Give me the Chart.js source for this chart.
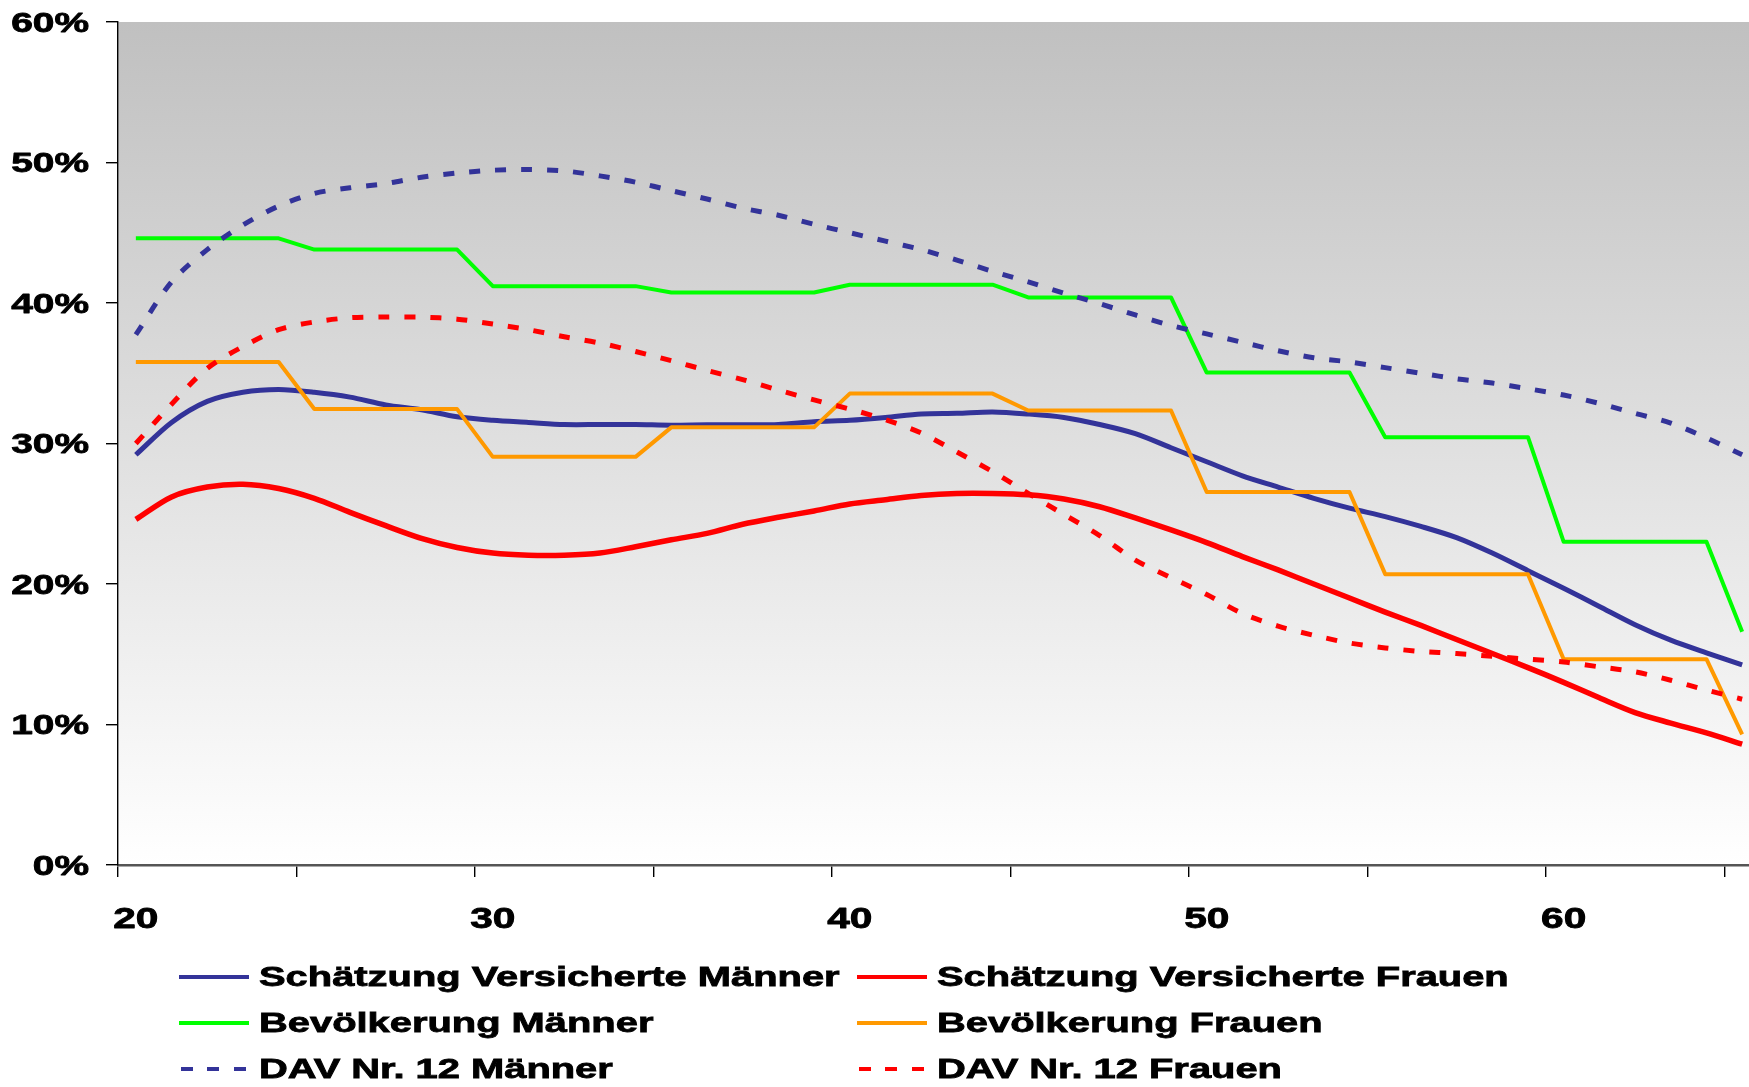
<!DOCTYPE html>
<html lang="de">
<head>
<meta charset="utf-8">
<title>Schätzung Versicherte / Bevölkerung / DAV Nr. 12</title>
<script src="https://cdn.jsdelivr.net/npm/chart.js@4.4.1/dist/chart.umd.min.js"></script>
<style>
  html, body { margin: 0; padding: 0; background: #fff; overflow: hidden; }
  #wrap { position: relative; width: 1749px; height: 1087px; overflow: hidden; }
  #chart { position: absolute; left: 0; top: 0; }
  #legend { position: absolute; left: 0; top: 0; width: 1749px; height: 1087px;
            font: bold 27.5px "Liberation Sans", Arial, sans-serif; color: #000;
            -webkit-text-stroke: 0.8px #000; }
  .swatch { position: absolute; height: 4px; }
  .label { position: absolute; white-space: nowrap; line-height: 30px; transform-origin: 0 0; }
</style>
</head>
<body>
<div id="wrap">
  <canvas id="chart" width="1760" height="945"></canvas>
  <div id="legend"></div>
</div>
<script>
/* ---- data (ages 20..65, values in %) ---- */
const AGES = [20, 21, 22, 23, 24, 25, 26, 27, 28, 29, 30, 31, 32, 33, 34, 35, 36, 37, 38, 39, 40, 41, 42,
              43, 44, 45, 46, 47, 48, 49, 50, 51, 52, 53, 54, 55, 56, 57, 58, 59, 60, 61, 62, 63, 64, 65];

const X_LABELS = ['20', '30', '40', '50', '60'];
const Y_TICKS  = [0, 10, 20, 30, 40, 50, 60];

const SCHAETZUNG_MAENNER = [29.2, 31.5, 33.0, 33.65, 33.85, 33.65, 33.3, 32.75, 32.4, 31.9, 31.65, 31.5,
                            31.35, 31.35, 31.35, 31.3, 31.33, 31.33, 31.35, 31.55, 31.65, 31.85, 32.1,
                            32.15, 32.25, 32.1, 31.85, 31.35, 30.7, 29.7, 28.7, 27.7, 26.9, 26.1, 25.4,
                            24.8, 24.1, 23.3, 22.2, 20.95, 19.7, 18.4, 17.1, 16.0, 15.1, 14.25];

const SCHAETZUNG_FRAUEN  = [24.6, 26.2, 26.9, 27.1, 26.8, 26.1, 25.1, 24.15, 23.25, 22.6, 22.2, 22.05,
                            22.05, 22.2, 22.65, 23.15, 23.6, 24.25, 24.75, 25.2, 25.7, 26.0, 26.3,
                            26.45, 26.45, 26.35, 26.05, 25.5, 24.7, 23.85, 22.95, 21.95, 21.0, 20.0,
                            19.0, 18.0, 17.05, 16.05, 15.05, 14.05, 13.0, 11.9, 10.85, 10.1, 9.4, 8.6];

const BEVOELKERUNG_MAENNER = [44.6, 44.6, 44.6, 44.6, 44.6, 43.8, 43.8, 43.8, 43.8, 43.8, 41.2, 41.2,
                              41.2, 41.2, 41.2, 40.75, 40.75, 40.75, 40.75, 40.75, 41.3, 41.3, 41.3,
                              41.3, 41.3, 40.4, 40.4, 40.4, 40.4, 40.4, 35.05, 35.05, 35.05, 35.05,
                              35.05, 30.45, 30.45, 30.45, 30.45, 30.45, 23.0, 23.0, 23.0, 23.0, 23.0, 16.6];

const BEVOELKERUNG_FRAUEN  = [35.8, 35.8, 35.8, 35.8, 35.8, 32.45, 32.45, 32.45, 32.45, 32.45, 29.05,
                              29.05, 29.05, 29.05, 29.05, 31.15, 31.15, 31.15, 31.15, 31.15, 33.55,
                              33.55, 33.55, 33.55, 33.55, 32.35, 32.35, 32.35, 32.35, 32.35, 26.55,
                              26.55, 26.55, 26.55, 26.55, 20.7, 20.7, 20.7, 20.7, 20.7, 14.65, 14.65,
                              14.65, 14.65, 14.65, 9.3];

const DAV_MAENNER = [37.75, 41.5, 43.8, 45.55, 46.9, 47.8, 48.2, 48.5, 48.95, 49.25, 49.45, 49.5, 49.4,
                     49.05, 48.6, 48.0, 47.4, 46.75, 46.25, 45.6, 45.0, 44.4, 43.8, 43.05, 42.25, 41.5,
                     40.7, 39.95, 39.15, 38.4, 37.8, 37.2, 36.6, 36.1, 35.8, 35.4, 35.0, 34.6, 34.3,
                     33.9, 33.45, 32.85, 32.15, 31.45, 30.4, 29.2];

const DAV_FRAUEN  = [30.0, 32.8, 35.35, 36.9, 38.1, 38.65, 38.95, 39.0, 39.0, 38.85, 38.5, 38.1, 37.6,
                     37.15, 36.55, 35.9, 35.2, 34.55, 33.8, 33.1, 32.45, 31.7, 30.75, 29.4, 28.0, 26.45,
                     24.95, 23.45, 21.7, 20.45, 19.25, 17.9, 17.0, 16.35, 15.8, 15.45, 15.2, 15.05,
                     14.85, 14.65, 14.45, 14.1, 13.75, 13.15, 12.45, 11.8];

const SERIES_LABELS = ['Schätzung Versicherte Männer', 'Schätzung Versicherte Frauen',
                       'Bevölkerung Männer', 'Bevölkerung Frauen',
                       'DAV Nr. 12 Männer', 'DAV Nr. 12 Frauen'];
const SERIES_DATA = [SCHAETZUNG_MAENNER, SCHAETZUNG_FRAUEN, BEVOELKERUNG_MAENNER,
                     BEVOELKERUNG_FRAUEN, DAV_MAENNER, DAV_FRAUEN];

/* ---- styles ---- */
const COLORS  = ['#333399', '#FF0000', '#00FF00', '#FF9900', '#333399', '#FF0000'];
const WIDTHS  = [5, 5.5, 4, 4, 5, 5];
const DASHED  = [false, false, false, false, true, true];
const SMOOTH  = [0.3, 0.3, 0, 0, 0.3, 0.3];

// the original text is Arial bold drawn horizontally widened
const FONT_FAMILY = '"Liberation Sans", Arial, sans-serif';
const X_FONT = 29, X_STRETCH = 1.4;
const Y_FONT = 27, Y_STRETCH = 1.44;
const LEGEND_STRETCH = 1.45;

// grey-to-white plot area like the Excel original
const plotBackground = {
  id: 'plotBackground',
  beforeDraw(chart) {
    const { ctx, chartArea: a } = chart;
    const g = ctx.createLinearGradient(0, a.top, 0, a.bottom);
    g.addColorStop(0, '#C0C0C0');
    g.addColorStop(1, '#FFFFFF');
    ctx.save();
    ctx.fillStyle = g;
    ctx.fillRect(a.left, a.top, a.right - a.left, a.bottom - a.top);
    ctx.restore();
  }
};

function drawWide(ctx, text, x, y, sx) {
  ctx.save();
  ctx.translate(x, y);
  ctx.scale(sx, 1);
  ctx.fillText(text, 0, 0);
  ctx.strokeText(text, 0, 0);   // a bit heavier, like the original
  ctx.restore();
}

// tick labels, placed by the scales, but widened like the original
const wideTickLabels = {
  id: 'wideTickLabels',
  afterDraw(chart) {
    const { ctx } = chart;
    const xs = chart.scales.x, ys = chart.scales.y;
    ctx.save();
    ctx.fillStyle = '#000';
    ctx.strokeStyle = '#000';
    ctx.lineWidth = 0.8;
    ctx.lineJoin = 'round';
    ctx.textBaseline = 'alphabetic';

    ctx.font = `bold ${X_FONT}px ${FONT_FAMILY}`;
    ctx.textAlign = 'center';
    xs.ticks.forEach((t, i) => {
      const label = String(AGES[i]);
      if (X_LABELS.includes(label)) drawWide(ctx, label, xs.getPixelForTick(i), xs.top + 63, X_STRETCH);
    });

    ctx.font = `bold ${Y_FONT}px ${FONT_FAMILY}`;
    ctx.textAlign = 'right';
    Y_TICKS.forEach(v => {
      drawWide(ctx, v + '%', ys.right - 29, ys.getPixelForValue(v) + 9.7, Y_STRETCH);
    });
    ctx.restore();
  }
};

const datasets = SERIES_DATA.map((data, i) => ({
  label: SERIES_LABELS[i],
  data,
  borderColor: COLORS[i],
  backgroundColor: COLORS[i],
  borderWidth: WIDTHS[i],
  borderDash: DASHED[i] ? [11, 15] : [],
  borderCapStyle: 'butt',
  borderJoinStyle: 'round',
  tension: SMOOTH[i],
  pointRadius: 0,
  fill: false,
  order: SERIES_DATA.length - i,   // later series on top
}));

new Chart(document.getElementById('chart'), {
  type: 'line',
  data: { labels: AGES.map(String), datasets },
  plugins: [plotBackground, wideTickLabels],
  options: {
    responsive: false,
    animation: false,
    devicePixelRatio: 1,
    layout: { padding: { top: 22, left: 0, right: 0, bottom: 0 } },
    plugins: { legend: { display: false }, tooltip: { enabled: false } },
    scales: {
      x: {
        type: 'category',
        offset: true,
        grid: {
          offset: true,
          drawOnChartArea: false,
          drawTicks: true,
          tickLength: 12,
          lineWidth: 1.4,
          color: (c) => (c.index % 5 === 0 ? '#000' : 'rgba(0,0,0,0)'),
        },
        border: { display: true, color: '#555', width: 2.5 },
        ticks: { display: false, autoSkip: false },
        afterFit: (s) => { s.height = 80; },
      },
      y: {
        min: Y_TICKS[0],
        max: Y_TICKS[Y_TICKS.length - 1],
        afterBuildTicks: (s) => { s.ticks = Y_TICKS.map(v => ({ value: v })); },
        grid: {
          drawOnChartArea: false,
          drawTicks: true,
          tickLength: 12,
          lineWidth: 1.4,
          color: '#000',
        },
        border: { display: true, color: '#000', width: 1.4 },
        ticks: { display: false },
        afterFit: (s) => { s.width = 118; },
      },
    },
  },
});

/* ---- two-column legend below the plot, as in the original ---- */
const LEGEND_SWATCH_X = [179, 857];
const LEGEND_TEXT_X   = [259, 937];
const LEGEND_ROW_Y    = [976.5, 1022.5, 1069];   // line / text centre of each row
const legendEl = document.getElementById('legend');
SERIES_LABELS.forEach((label, i) => {
  const col = i % 2, rowY = LEGEND_ROW_Y[Math.floor(i / 2)];
  const sw = document.createElement('div');
  sw.className = 'swatch';
  sw.style.left = LEGEND_SWATCH_X[col] + 'px';
  sw.style.top = (rowY - 2) + 'px';
  sw.style.width = '70px';
  sw.style.background = DASHED[i]
    ? `repeating-linear-gradient(90deg, transparent 0 2px, ${COLORS[i]} 2px 14px, transparent 14px 26.3px)`
    : COLORS[i];
  legendEl.appendChild(sw);

  const txt = document.createElement('div');
  txt.className = 'label';
  txt.textContent = label;
  txt.style.left = LEGEND_TEXT_X[col] + 'px';
  txt.style.top = (rowY - 15) + 'px';
  txt.style.transform = `scaleX(${LEGEND_STRETCH})`;
  legendEl.appendChild(txt);
});
</script>
</body>
</html>
